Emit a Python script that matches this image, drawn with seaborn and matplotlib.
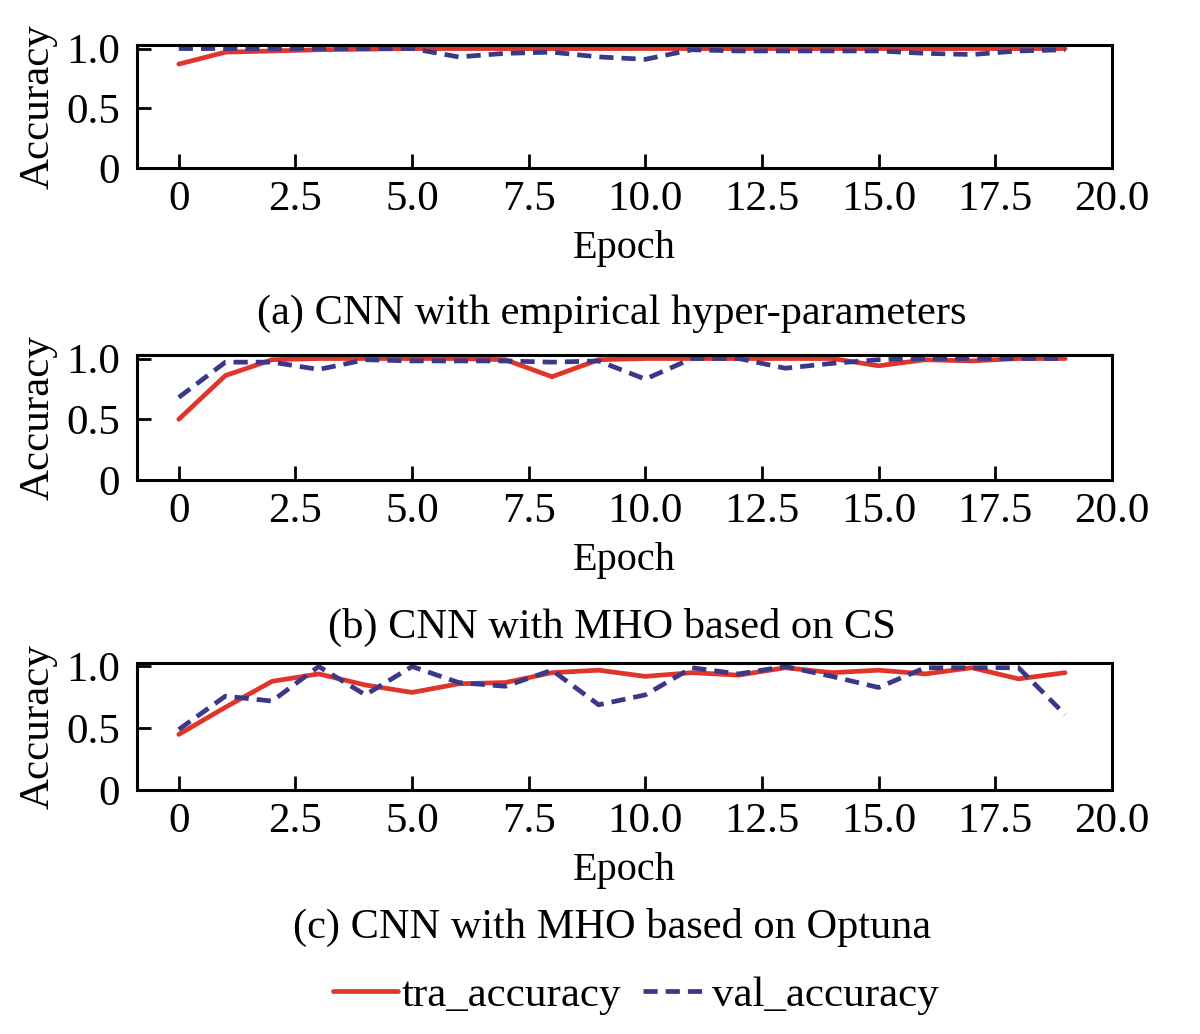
import numpy as np
import pandas as pd
import matplotlib
matplotlib.use('Agg')
import matplotlib.pyplot as plt
import seaborn as sns

epochs = list(range(20))

# (a) CNN with empirical hyper-parameters
tra_a = [0.87, 0.97, 0.98, 0.99, 0.995, 1.0, 1.0, 1.0, 1.0, 1.0,
         1.0, 1.0, 1.0, 1.0, 1.0, 1.0, 1.0, 1.0, 1.0, 1.0]
val_a = [1.0, 1.0, 1.0, 1.0, 1.0, 1.0, 0.93, 0.96, 0.97, 0.93,
         0.91, 0.99, 0.98, 0.98, 0.98, 0.98, 0.96, 0.95, 0.98, 0.99]

# (b) CNN with MHO based on CS
tra_b = [0.50, 0.86, 0.99, 1.0, 1.0, 1.0, 1.0, 0.99, 0.85, 0.99,
         1.0, 1.0, 1.0, 1.0, 1.0, 0.94, 0.99, 0.98, 1.0, 1.0]
val_b = [0.68, 0.97, 0.97, 0.91, 0.99, 0.98, 0.98, 0.98, 0.97, 0.98,
         0.83, 1.0, 1.0, 0.92, 0.96, 0.99, 1.0, 1.0, 1.0, 1.0]

# (c) CNN with MHO based on Optuna
tra_c = [0.45, 0.67, 0.88, 0.94, 0.85, 0.79, 0.86, 0.87, 0.95, 0.97,
         0.92, 0.95, 0.93, 0.99, 0.95, 0.97, 0.94, 0.99, 0.90, 0.95]
val_c = [0.49, 0.76, 0.72, 1.0, 0.77, 1.0, 0.87, 0.84, 0.97, 0.69,
         0.77, 0.99, 0.94, 1.0, 0.92, 0.83, 0.99, 0.99, 0.99, 0.61]

captions = ['(a) CNN with empirical hyper-parameters',
            '(b) CNN with MHO based on CS',
            '(c) CNN with MHO based on Optuna']
xticks = [0, 2.5, 5.0, 7.5, 10.0, 12.5, 15.0, 17.5, 20.0]
xticklabels = ['0', '2.5', '5.0', '7.5', '10.0', '12.5', '15.0', '17.5', '20.0']

sns.set_style('ticks')
plt.rcParams['font.family'] = ['Liberation Serif', 'DejaVu Serif']
plt.rcParams['text.color'] = 'black'
plt.rcParams['axes.labelcolor'] = 'black'

red = '#e0352b'
blue = '#3a3888'

fig = plt.figure(figsize=(12, 10.34), dpi=100)
boxes = [(0.114, 0.8375, 0.8125, 0.119),
         (0.114, 0.5358, 0.8125, 0.121),
         (0.114, 0.2360, 0.8125, 0.123)]
cap_y = [0.697, 0.393, 0.103]

series = [(tra_a, val_a), (tra_b, val_b), (tra_c, val_c)]
for i, (tra, val) in enumerate(series):
    ax = fig.add_axes(boxes[i])
    df = pd.DataFrame({'Epoch': epochs, 'tra_accuracy': tra, 'val_accuracy': val})
    sns.lineplot(data=df, x='Epoch', y='tra_accuracy', ax=ax, color=red,
                 linewidth=3.4, label='tra_accuracy', legend=False)
    sns.lineplot(data=df, x='Epoch', y='val_accuracy', ax=ax, color=blue,
                 linewidth=3.4, linestyle=(0, (3.0, 1.7)), label='val_accuracy', legend=False)
    ax.set_xlim(-0.9, 20.0)
    ax.set_ylim(0, 1.03)
    ax.set_xticks(xticks)
    ax.set_xticklabels(xticklabels)
    ax.set_yticks([0, 0.5, 1.0])
    ax.set_yticklabels(['0', '0.5', '1.0'])
    ax.tick_params(axis='both', direction='in', length=10, width=2, labelsize=31,
                   colors='black')
    ax.tick_params(axis='x', pad=9)
    ax.tick_params(axis='y', pad=12)
    for s in ax.spines.values():
        s.set_visible(True)
        s.set_linewidth(2.2)
        s.set_color('black')
    ax.set_xlabel('Epoch', fontsize=29, labelpad=8, color='black')
    ax.set_ylabel('Accuracy', fontsize=31, labelpad=6, color='black')
    fig.text(0.51, cap_y[i], captions[i], ha='center', va='center',
             fontsize=30.5, color='black')
    if i == 0:
        handles, labels = ax.get_legend_handles_labels()

fig.legend(handles, labels, loc='center', bbox_to_anchor=(0.53, 0.037), ncol=2,
           frameon=False, fontsize=31, handlelength=1.5, handletextpad=0.1,
           columnspacing=0.5, labelcolor='black')

fig.savefig('out.png', dpi=100)
